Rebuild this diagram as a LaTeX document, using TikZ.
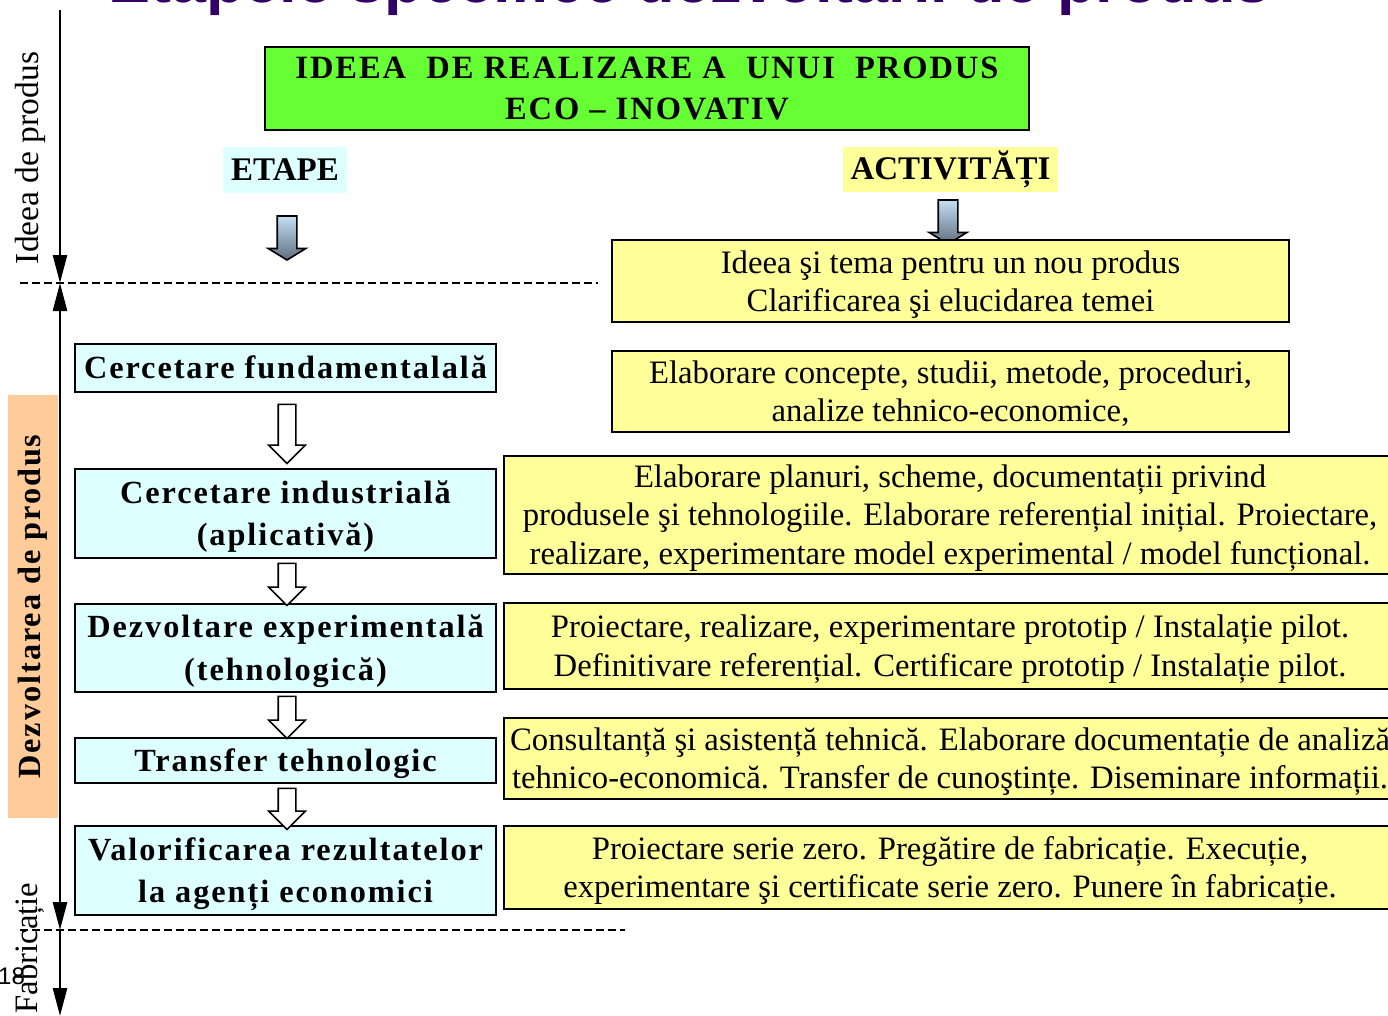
\documentclass[tikz,border=0pt]{standalone}
\usepackage{fontspec}
\setmainfont{Liberation Serif}
\setsansfont{Liberation Sans}
\newfontfamily\spatiat{Liberation Serif}[LetterSpace=6]
\usepackage{tikz}
\usetikzlibrary{arrows.meta,shapes.arrows}

\definecolor{verde}{HTML}{66FF33}
\definecolor{galben}{HTML}{FFFF99}
\definecolor{cian}{HTML}{DDFFFF}
\definecolor{portocaliu}{HTML}{FFCC99}
\definecolor{titlu}{HTML}{330066}
\definecolor{sageatasus}{HTML}{C4DEF4}
\definecolor{sageatajos}{HTML}{5F6E80}

\tikzset{
  txt/.style={font=\fontsize{32.7}{38.5}\selectfont, align=center, inner sep=0pt},
  activ/.style={txt, draw, line width=2pt, fill=galben, text depth=0pt, yshift=1.5pt},
  etapa/.style={txt, draw, line width=2pt, fill=cian, font=\fontsize{32.3}{42.5}\selectfont\spatiat\bfseries,
    minimum width=421pt, text depth=0pt, yshift=-0.5pt},
  hollow/.style={single arrow, draw, line width=1.6pt, fill=white, inner sep=8pt,
    minimum width=35pt, single arrow head extend=9.5pt, shape border rotate=270},
  shaded/.style={single arrow, draw, line width=1.6pt, inner sep=9pt,
    top color=sageatasus, bottom color=sageatajos,
    minimum width=36pt, single arrow head extend=9pt, single arrow tip angle=117,
    shape border rotate=270},
  axa/.style={line width=2.6pt, -{Triangle[length=28pt,width=14pt]}},
  sep/.style={line width=2pt, dash pattern=on 8pt off 4pt}
}

\begin{document}
\begin{tikzpicture}[x=1pt, y=-1pt]
\useasboundingbox (0,0) rectangle (1388,1016);
% title (cut at the top of the slide)
\node [anchor=base west, inner sep=0pt, text=titlu, font=\fontsize{63}{70}\selectfont\sffamily\bfseries] (titlu) at (108,3) {Etapele specifice dezvoltării de produs};
\node [anchor=west, inner sep=0pt, font=\fontsize{24}{28}\selectfont\sffamily] (pag) at (-2,976) {18};

% left axis
\node [txt, rotate=90, font=\fontsize{33.5}{38}\selectfont] (lid) at (30,158) {Ideea de produs};
\node [txt, rotate=90, fill=portocaliu, font=\fontsize{32.3}{38}\selectfont\spatiat\bfseries, minimum width=423pt, minimum height=50pt] (ldz) at (33,606.5) {Dezvoltarea de produs};
\node [txt, rotate=90] (lfb) at (30,948) {Fabricație};
\coordinate (ax0) at (60,10);
\coordinate (ax1) at (60,283);
\coordinate (ax2) at (60,930);
\coordinate (ax3) at (60,1016);
\draw [axa] (ax0) -- (ax1);
\draw [axa, {Triangle[length=28pt,width=14pt]}-{Triangle[length=28pt,width=14pt]}] (ax1) -- (ax2);
\draw [axa] (ax2) -- (ax3);
\draw [sep] (20,283) -- (598,283);
\draw [sep] (20,930) -- (625,930);

% top
\node [txt, draw, line width=2pt, fill=verde, font=\fontsize{32.5}{41}\selectfont\spatiat\bfseries, minimum width=764pt, minimum height=83pt, text depth=0pt] (idee) at (647,88.5) {IDEEA\ \ DE REALIZARE A\ \ UNUI\ \ PRODUS\\ECO – INOVATIV};
\node [txt, fill=cian, font=\fontsize{33}{38}\selectfont\bfseries, minimum width=124pt, minimum height=46pt] (etape) at (285,170) {ETAPE};
\node [txt, fill=galben, font=\fontsize{33}{38}\selectfont\bfseries, minimum width=215pt, minimum height=45pt] (activitati) at (950.5,169.5) {ACTIVITĂȚI};
\node [shaded, minimum height=44pt] (sE) at (287,235) {};
\node [shaded, minimum height=44pt] (sA) at (948,219) {};

% etape
\node [etapa, minimum height=48pt] (et1) at (285.5,367) {Cercetare fundamentalală};
\node [etapa, minimum height=89pt] (et2) at (285.5,512.5) {Cercetare industrială\\(aplicativă)};
\node [etapa, minimum height=88pt] (et3) at (285.5,647) {Dezvoltare experimentală\\(tehnologică)};
\node [etapa, minimum height=45pt] (et4) at (285.5,759.5) {Transfer tehnologic};
\node [etapa, minimum height=89pt] (et5) at (285.5,869.5) {Valorificarea rezultatelor\\la agenți economici};
\node [hollow, minimum height=59pt] (s1) at (287,429.5) {};
\node [hollow, minimum height=42pt] (s2) at (287,580) {};
\node [hollow, minimum height=42pt] (s3) at (287,713) {};
\node [hollow, minimum height=41pt] (s4) at (287,804.5) {};

% activitati
\node [activ, minimum width=677pt, minimum height=81pt] (ac1) at (950.5,282.5) {Ideea şi tema pentru un nou produs\\Clarificarea şi elucidarea temei};
\node [activ, minimum width=677pt, minimum height=81pt] (ac2) at (950.5,392.5) {Elaborare concepte, studii, metode, proceduri,\\analize tehnico-economice,};
\node [activ, minimum width=892pt, minimum height=118pt] (ac3) at (950,516) {Elaborare planuri, scheme, documentații privind\\produsele şi tehnologiile. Elaborare referențial inițial. Proiectare,\\realizare, experimentare model experimental / model funcțional.};
\node [activ, minimum width=892pt, minimum height=86pt] (ac4) at (950,647) {Proiectare, realizare, experimentare prototip / Instalație pilot.\\Definitivare referențial. Certificare prototip / Instalație pilot.};
\node [activ, minimum width=892pt, minimum height=81pt] (ac5) at (950,759.5) {Consultanță şi asistență tehnică. Elaborare documentație de analiză\\tehnico-economică. Transfer de cunoştințe. Diseminare informații.};
\node [activ, minimum width=892pt, minimum height=83pt] (ac6) at (950,868.5) {Proiectare serie zero. Pregătire de fabricație. Execuție,\\experimentare şi certificate serie zero. Punere în fabricație.};
\end{tikzpicture}
\end{document}
